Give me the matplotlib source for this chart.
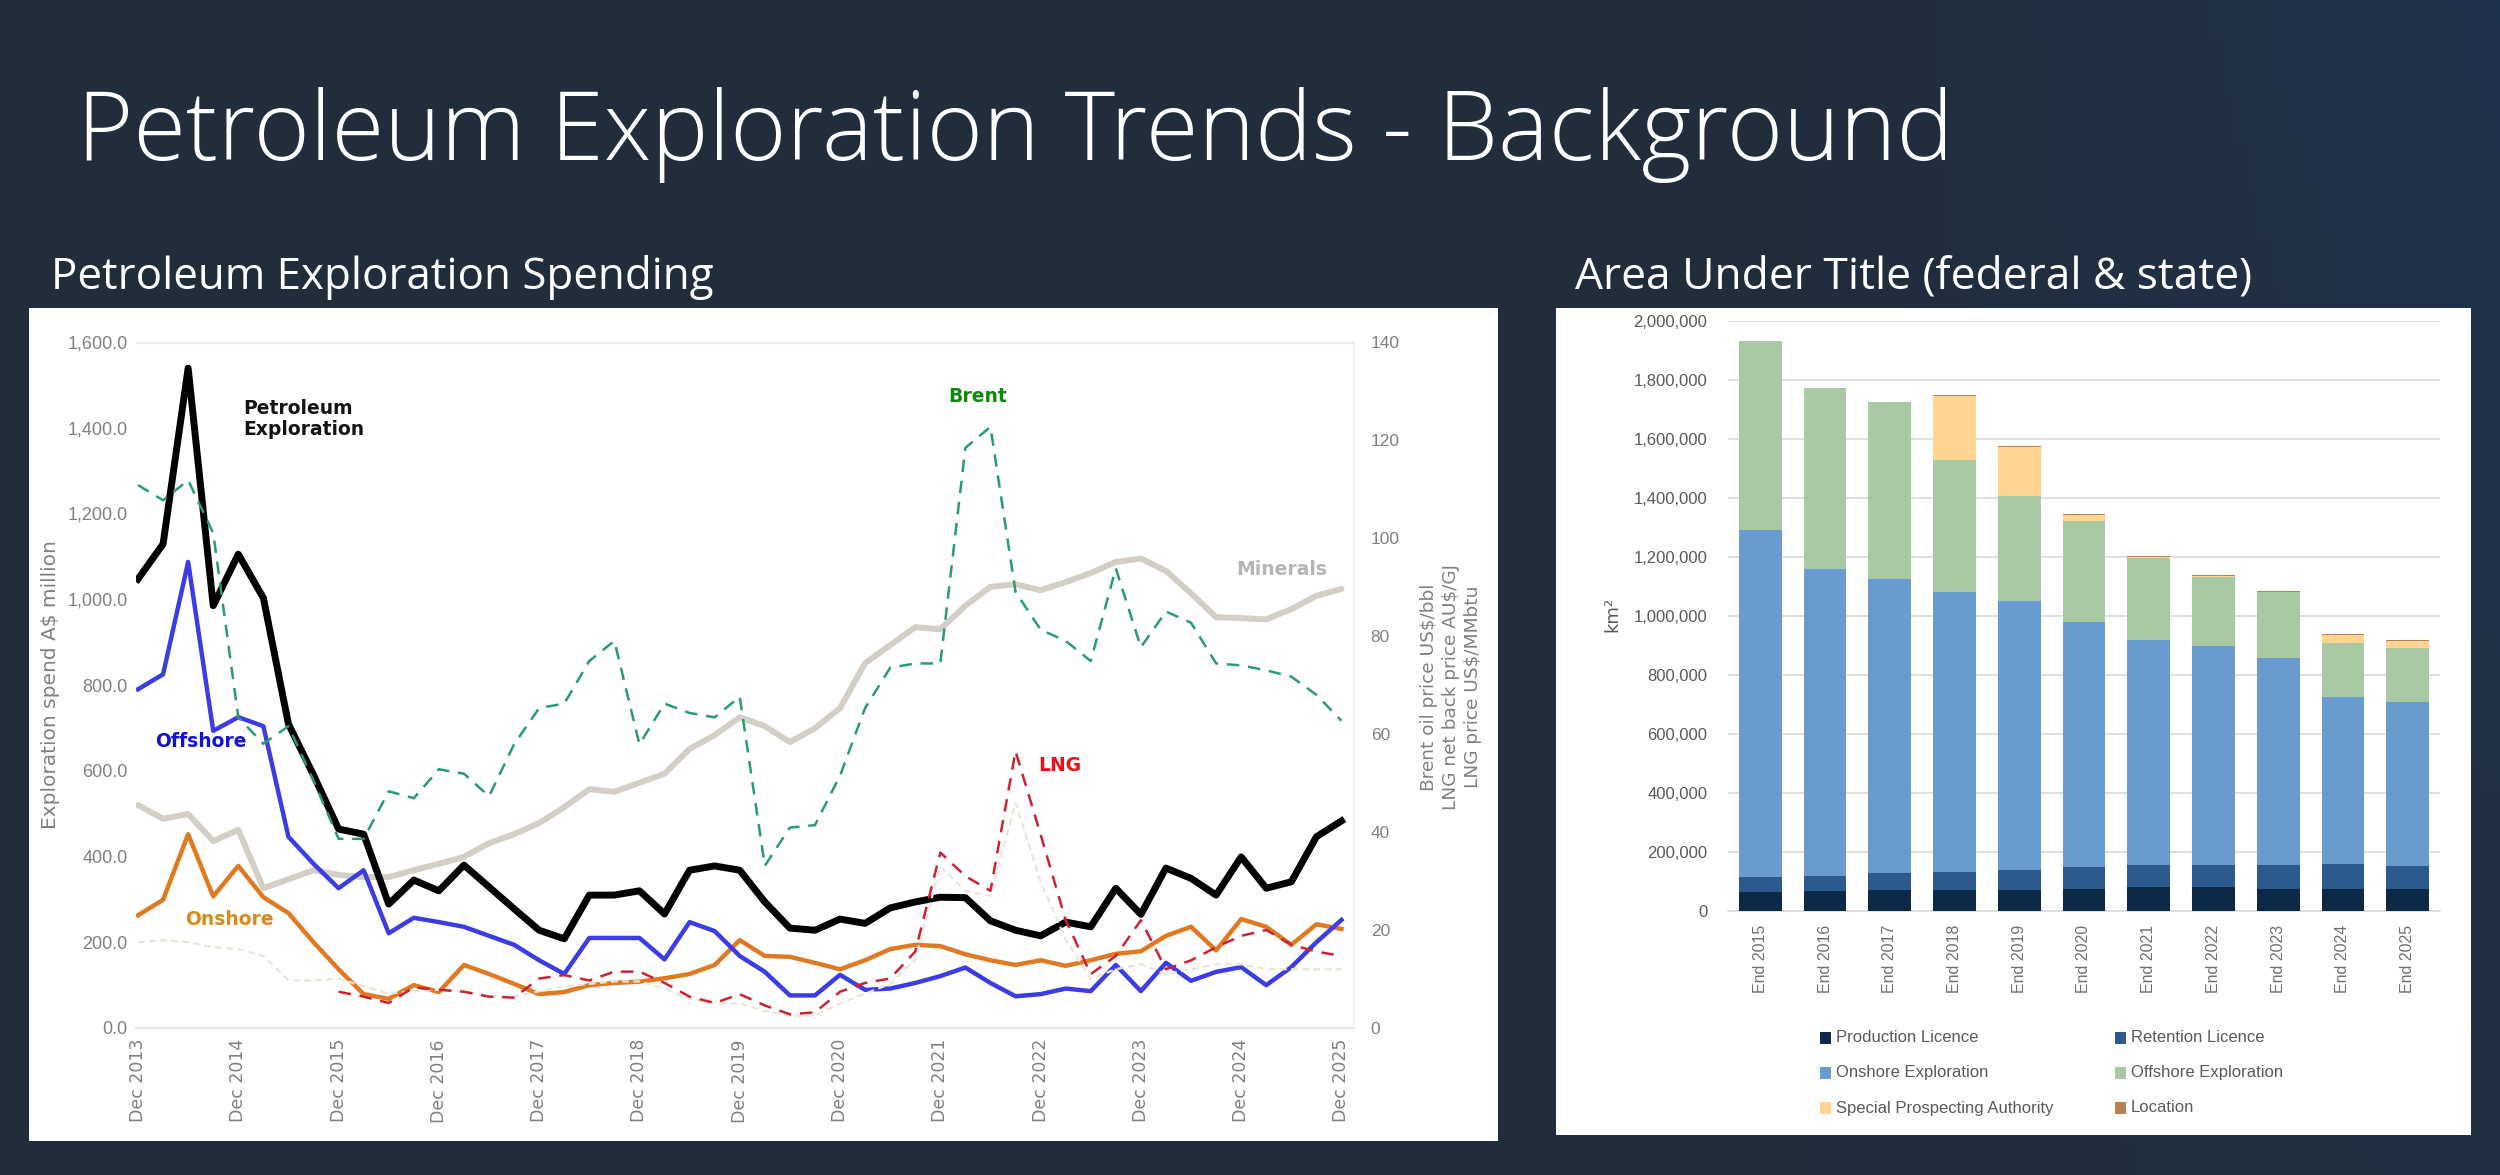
import numpy as np
import matplotlib
matplotlib.use("Agg")
import matplotlib.pyplot as plt
from matplotlib.patches import Rectangle
from matplotlib.ticker import FuncFormatter, MultipleLocator

nan = np.nan

# ---- left chart: quarterly values, Dec 2013 .. Dec 2025 ----
quarters = np.arange(49)
year_labels = ["Dec %d" % y for y in range(2013, 2026)]

petroleum = [1047, 1129, 1539, 985, 1105, 1003, 709, 590, 464, 452,
             289, 345, 320, 380, 329, 278, 228, 208, 310, 310,
             320, 266, 368, 378, 368, 294, 233, 228, 254, 244,
             280, 294, 305, 304, 250, 228, 215, 247, 236, 326,
             265, 373, 349, 310, 399, 326, 341, 446, 483]
offshore = [790, 825, 1087, 693, 725, 704, 446, 383, 326, 368,
            221, 257, 247, 236, 215, 194, 158, 126, 210, 210,
            210, 160, 247, 226, 168, 131, 76, 76, 124, 89,
            92, 105, 121, 141, 105, 74, 79, 92, 86, 147,
            86, 152, 110, 131, 142, 100, 142, 200, 252]
onshore = [263, 299, 452, 307, 378, 305, 268, 200, 137, 79,
           68, 100, 84, 147, 126, 103, 79, 84, 100, 105,
           108, 116, 126, 147, 205, 168, 166, 152, 137, 158,
           184, 194, 191, 172, 158, 147, 158, 145, 158, 173,
           179, 215, 236, 181, 254, 236, 194, 242, 231]
minerals = [520, 488, 499, 436, 462, 326, 347, 368, 357, 352,
            352, 368, 383, 399, 431, 452, 478, 515, 557, 551,
            572, 593, 651, 683, 725, 704, 667, 699, 746, 851,
            893, 935, 930, 985, 1029, 1035, 1021, 1040, 1061, 1087,
            1095, 1066, 1014, 958, 956, 953, 977, 1008, 1024]
# right axis
brent = [110.8, 107.7, 111.8, 101, 63.4, 58, 61.6, 50.5, 38.6, 38.6,
         48.3, 46.9, 52.8, 51.9, 47.3, 57.9, 65.3, 66.2, 74.9, 79,
         57.9, 66.2, 64.3, 63.4, 67.6, 33.1, 40.9, 41.4, 51.5, 65.3,
         73.5, 74.4, 74.4, 118.4, 122.7, 89, 81.3, 79, 74.9, 93.8,
         77.7, 85, 82.7, 74.4, 74, 73, 71.7, 68, 62.7]
lng_netback = [nan] * 8 + [7.4, 6.4,
               5.1, 8.3, 7.8, 7.4, 6.4, 6.2, 10.1, 10.8, 9.7, 11.5,
               11.5, 9.2, 6.4, 5.1, 6.9, 4.6, 2.8, 3.2, 7.4, 9.2,
               10.1, 15.6, 35.8, 31.0, 28.0, 56.5, 39.5, 22.0, 11.0, 14.7,
               22.0, 12.0, 13.8, 16.5, 18.8, 20.0, 17.0, 15.6, 14.7]
lng_usd = [17.5, 17.9, 17.5, 16.5, 16.1, 14.7, 9.7, 9.7, 10.1, 8.5,
           7.0, 7.5, 7.8, 7.5, 6.5, 6.5, 7.5, 8.5, 9.0, 9.5,
           9.5, 8.0, 6.0, 5.0, 5.0, 3.5, 2.5, 2.5, 5.0, 7.0,
           9.0, 14.0, 33.0, 28.0, 27.0, 46.0, 30.0, 18.0, 10.0, 12.0,
           13.0, 11.0, 12.0, 13.0, 13.0, 12.0, 12.0, 12.0, 12.0]

# ---- right chart: area under title, km2 ----
years = ["End %d" % y for y in range(2015, 2026)]
production = [65000, 67000, 70000, 70000, 72000, 74000, 80000, 80000, 75000, 75000, 75000]
retention = [50000, 53000, 60000, 62000, 68000, 76000, 76000, 76000, 80000, 85000, 76000]
onshore_expl = [1178000, 1040000, 995000, 951000, 912000, 828000, 762000, 742000, 701000, 565000, 557000]
offshore_expl = [640000, 612000, 602000, 447000, 356000, 345000, 278000, 234000, 224000, 185000, 183000]
spa = [0, 0, 0, 215000, 164000, 18000, 3000, 5000, 2000, 25000, 25000]
location = [0, 2000, 0, 5000, 4000, 4000, 3000, 3000, 2000, 3000, 3000]

W, H = 2500, 1175
fig = plt.figure(figsize=(25, 11.75), dpi=100)


def box(x0, y0, x1, y1):
    # pixel box with top-left origin -> figure fraction rect
    return [x0 / W, 1 - y1 / H, (x1 - x0) / W, (y1 - y0) / H]


# background gradient
bg = fig.add_axes([0, 0, 1, 1], zorder=-10)
gx = np.linspace(0, 1, 200)[None, :]
gy = np.linspace(0, 1, 100)[:, None]
t = np.clip((gx - 0.72) * 3.0, 0, 1) * (1 - 0.6 * gy)
c0 = np.array([0x22, 0x2d, 0x3c]) / 255.
c1 = np.array([0x1f, 0x33, 0x4e]) / 255.
img = c0[None, None, :] * (1 - t[..., None]) + c1[None, None, :] * t[..., None]
bg.imshow(img, aspect="auto", extent=[0, 1, 0, 1])
bg.axis("off")

# white panels
for rect in [box(29, 308, 1498, 1141), box(1556, 308, 2471, 1135)]:
    fig.patches.append(Rectangle((rect[0], rect[1]), rect[2], rect[3],
                                 transform=fig.transFigure, figure=fig,
                                 facecolor="white", edgecolor="none", zorder=-5))


def fit_text(x, y, s, width_px, size0, **kw):
    txt = fig.text(x / W, 1 - y / H, s, fontsize=size0, **kw)
    w = txt.get_window_extent(fig.canvas.get_renderer()).width
    txt.set_fontsize(size0 * width_px / w)
    return txt


sub_font = ["Open Sans", "DejaVu Sans"]
fit_text(77, 160, "Petroleum Exploration Trends - Background", 1877, 80,
         color="white", family=sub_font, weight="light", va="baseline")
fit_text(51, 289, "Petroleum Exploration Spending", 662, 30,
         color="white", family=sub_font, va="baseline")
fit_text(1575, 289, "Area Under Title (federal & state)", 677, 30,
         color="white", family=sub_font, va="baseline")

# ---------------- left chart ----------------
grey = "#808080"
tick_font = ["Liberation Sans", "DejaVu Sans"]
ax = fig.add_axes(box(136, 342, 1354, 1028))
ax.set_facecolor("none")
ax2 = ax.twinx()

ax2.plot(quarters, lng_usd, color="#ebe5d9", lw=1.6, ls=(0, (3, 2)), zorder=1)
ax.plot(quarters, minerals, color="#d3cfc6", lw=4.3, zorder=2, solid_capstyle="round")
ax.plot(quarters, onshore, color="#e07a22", lw=3.2, zorder=3)
ax.plot(quarters, offshore, color="#3c3ce6", lw=3.2, zorder=4)
ax.plot(quarters, petroleum, color="#000000", lw=5, zorder=5)
ax2.plot(quarters, brent, color="#2a9a73", lw=1.8, ls=(0, (5, 3.5)), zorder=3)
ax2.plot(quarters, lng_netback, color="#cc2233", lw=1.8, ls=(0, (5, 3.5)), zorder=3)

ax.set_xlim(-0.08, 48.5)
ax.set_ylim(0, 1600)
ax2.set_ylim(0, 140)
ax.yaxis.set_major_locator(MultipleLocator(200))
ax.yaxis.set_major_formatter(FuncFormatter(lambda v, p: "{:,.1f}".format(v)))
ax2.yaxis.set_major_locator(MultipleLocator(20))
ax.set_xticks(quarters[::4])
ax.set_xticklabels(year_labels, rotation=90, fontsize=12.5, color=grey, family="DejaVu Sans")
ax.tick_params(axis="x", length=0, pad=8)
ax.tick_params(axis="y", length=0, pad=6, labelsize=13, labelcolor=grey)
ax2.tick_params(axis="y", length=0, pad=12, labelsize=12.5, labelcolor=grey)
for lab in ax.get_yticklabels() + ax2.get_yticklabels():
    lab.set_family(tick_font)
for a in (ax, ax2):
    for side in ("left", "top", "right", "bottom"):
        a.spines[side].set_visible(False)
ax.axhline(1600, color="#ececec", lw=2.5, zorder=0)
ax.spines["bottom"].set_visible(True)
ax.spines["bottom"].set_color("#e4e4e4")
ax.spines["bottom"].set_linewidth(1.5)
ax2.spines["right"].set_visible(True)
ax2.spines["right"].set_color("#efefef")
ax2.spines["right"].set_linewidth(1.2)

lab_kw = dict(weight="bold", fontsize=13.5, family="DejaVu Sans", zorder=6)
ax.text(4.2, 1420, "Petroleum\nExploration", color="#141414", va="center", ha="left",
        linespacing=1.15, **lab_kw)
ax.text(0.7, 669, "Offshore", color="#1414d6", va="center", ha="left", **lab_kw)
ax.text(1.87, 252, "Onshore", color="#d98a1a", va="center", ha="left", **lab_kw)
ax.text(33.5, 1472, "Brent", color="#0b8a0b", va="center", ha="center", **lab_kw)
ax.text(35.9, 613, "LNG", color="#e8101a", va="center", ha="left", **lab_kw)
ax.text(43.8, 1070, "Minerals", color="#b5b5b5", va="center", ha="left", **lab_kw)

fig.text(51 / W, 1 - 685 / H, "Exploration spend A\\$ million", rotation=90,
         ha="center", va="center", fontsize=14.5, color=grey, family="DejaVu Sans")
fig.text(1451 / W, 1 - 687 / H,
         "Brent oil price US\\$/bbl\nLNG net back price AU\\$/GJ\nLNG price US\\$/MMbtu",
         rotation=90, ha="center", va="center", multialignment="center",
         fontsize=13.3, color=grey, family="DejaVu Sans", linespacing=1.25)

# ---------------- right chart ----------------
bx = fig.add_axes(box(1728, 321, 2440, 911))
bx.set_facecolor("none")
pos = np.arange(len(years))
series = [
    ("Production Licence", production, "#0c2a48"),
    ("Retention Licence", retention, "#2d5a8c"),
    ("Onshore Exploration", onshore_expl, "#6a9bd0"),
    ("Offshore Exploration", offshore_expl, "#a9c9a4"),
    ("Special Prospecting Authority", spa, "#ffd591"),
    ("Location", location, "#b97f55"),
]
bottom = np.zeros(len(years))
for name, vals, col in series:
    bx.bar(pos, vals, 0.66, bottom=bottom, color=col, zorder=3, label=name)
    bottom += np.array(vals)

bx.set_xlim(-0.5, 10.5)
bx.set_ylim(0, 2000000)
bx.yaxis.set_major_locator(MultipleLocator(200000))
bx.yaxis.set_major_formatter(FuncFormatter(lambda v, p: "{:,.0f}".format(v)))
bx.grid(axis="y", color="#d9d9d9", lw=1.2, zorder=0)
bx.set_xticks(pos)
bx.set_xticklabels(years, rotation=90, fontsize=11.5, color="#6f6f6f", family=tick_font)
bx.tick_params(axis="x", length=0, pad=10)
bx.tick_params(axis="y", length=0, pad=15, labelsize=12, labelcolor="#595959")
for lab in bx.get_yticklabels():
    lab.set_family(tick_font)
for side in ("left", "top", "right"):
    bx.spines[side].set_visible(False)
bx.spines["bottom"].set_color("#d9d9d9")
bx.spines["bottom"].set_linewidth(1.2)

fig.text(1612 / W, 1 - 614 / H, "km²", rotation=90, ha="center", va="center",
         fontsize=13, color="#595959", family="DejaVu Sans")

# legend, two columns
leg_cols = [1820, 2115]
leg_rows = [1038, 1073, 1108]
for k, (name, vals, col) in enumerate(series):
    lx = leg_cols[k % 2]
    ly = leg_rows[k // 2]
    fig.patches.append(Rectangle((lx / W, 1 - (ly + 6) / H), 11 / W, 12 / H,
                                 transform=fig.transFigure, figure=fig,
                                 facecolor=col, edgecolor="none"))
    fig.text((lx + 16) / W, 1 - ly / H, name, ha="left", va="center",
             fontsize=12, color="#595959", family=tick_font)

fig.savefig("out.png", dpi=100)
